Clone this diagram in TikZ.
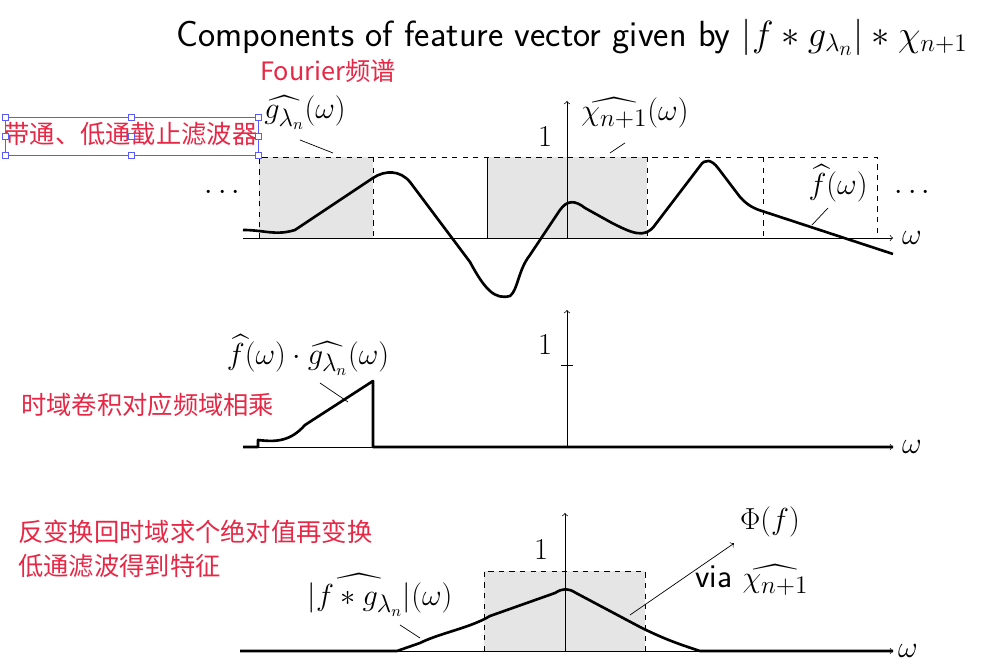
\documentclass[tikz,border=0pt]{standalone}
\usepackage{fontspec}
\usepackage{amsmath}
\newfontfamily\cjk{Noto Sans CJK SC}
\usetikzlibrary{calc}
\definecolor{notered}{RGB}{230,40,70}
\definecolor{boxblue}{RGB}{90,90,255}

\begin{document}
\begin{tikzpicture}[x=0.02cm, y=-0.02cm,
      axis/.style = {
        draw=black,
        thin,
        ->,
      },
      win/.style = {
        draw=black,
        dashed,
      },
      curve/.style = {
        draw=black,
        line width=1.5pt,
        line join=round,
      },
      lead/.style = {
        draw=black,
        thin,
      },
      note/.style = {
        text=notered,
        font=\cjk\Large,
        anchor=west,
      },
      lbl/.style = {
        font=\fontsize{19}{22}\selectfont,
      },
    ]
      \useasboundingbox (0,0) rectangle (992,671);
      \node[font=\sffamily\huge] (title) at (572,37)
        {Components of feature vector given by $|f*g_{\lambda_n}|*\chi_{n+1}$};
      \node[note, anchor=center] (fourier) at (328,71) {Fourier频谱};
      % top panel
      \fill[gray!20] (259,157) rectangle (373,238);
      \fill[gray!20] (487,157) rectangle (647,238);
      \draw[win] (259,238) -- (259,157) -- (877,157) -- (877,238);
      \foreach \x in {373,647,763}
        \draw[win] (\x,157) -- (\x,238);
      \draw (487,157) -- (487,238);
      \draw[axis] (243,238) -- (893,238);
      \draw[axis] (567,238) -- (567,101);
      \draw[curve] (243,230) .. controls (265,230) and (275,236) .. (295,230)
        -- (373,178) .. controls (385,170) and (400,170) .. (410,182)
        -- (470,262) .. controls (485,290) and (495,300) .. (510,296)
        .. controls (518,290) and (518,270) .. (530,255)
        -- (560,210) .. controls (567,200) and (575,200) .. (585,208)
        -- (612,223) .. controls (630,232) and (645,240) .. (655,225)
        -- (700,166) .. controls (705,158) and (712,160) .. (718,168)
        -- (740,197) .. controls (748,206) and (755,209) .. (765,212)
        -- (893,254);
      \node[lbl] (one) at (545,137) {$1$};
      \node[lbl] (glab) at (305,113) {$\widehat{g_{\lambda_n}}(\omega)$};
      \node[lbl] (chilab) at (635,113) {$\widehat{\chi_{n+1}}(\omega)$};
      \node[lbl] (flab) at (838,183) {$\widehat{f}(\omega)$};
      \draw[lead] (300,140) -- (333,153);
      \draw[lead] (625,143) -- (610,153);
      \draw[lead] (828,208) -- (812,225);
      \node[lbl] (ldots) at (225,193) {$\cdots$};
      \node[lbl] (rdots) at (915,193) {$\cdots$};
      \node[lbl] (w1) at (912,238) {$\omega$};
      \node[text=notered, font=\cjk\Large, inner sep=1pt] (filt) at (131,134) {带通、低通截止滤波器};
      \draw[boxblue, thin] (5,117) rectangle (258,155);
      \foreach \x in {5,131,258}
        \foreach \y in {117,136,155}
          \draw[boxblue, fill=white] (\x-3,\y-3) rectangle (\x+3,\y+3);
      % middle panel
      \draw[axis] (567,447) -- (567,310);
      \draw (561,365) -- (573,365);
      \draw[axis] (243,447) -- (893,447);
      \draw[curve] (243,447) -- (258,447) -- (258,440)
        .. controls (275,442) and (290,442) .. (305,425)
        -- (373,381) -- (373,447) -- (893,447);
      \node[lbl] (one2) at (545,345) {$1$};
      \node[lbl] (prodlab) at (308,355) {$\widehat{f}(\omega)\cdot\widehat{g_{\lambda_n}}(\omega)$};
      \draw[lead] (320,383) -- (348,402);
      \node[lbl] (w2) at (912,447) {$\omega$};
      \node[note] (conv) at (15,405) {时域卷积对应频域相乘};
      % bottom panel
      \fill[gray!20] (484,571) rectangle (645,651);
      \draw[win] (484,651) -- (484,571) -- (645,571) -- (645,651);
      \draw[axis] (565,651) -- (565,513);
      \draw[axis] (240,651) -- (893,651);
      \draw[curve] (240,651) -- (397,651) -- (420,643) .. controls (440,633) and (470,628) .. (490,616)
        -- (555,593) .. controls (563,588) and (568,588) .. (576,593)
        -- (640,627) .. controls (660,637) and (675,643) .. (700,651) -- (893,651);
      \node[lbl] (one3) at (541,550) {$1$};
      \node[lbl] (phi) at (770,522) {$\Phi(f)$};
      \node[lbl] (via) at (752,580) {\textsf{via} $\widehat{\chi_{n+1}}$};
      \coordinate (viastart) at (630,615);
      \draw[lead, ->] (viastart) -- (phi.south west);
      \node[lbl] (abslab) at (380,595) {$\widehat{|f*g_{\lambda_n}|}(\omega)$};
      \draw[lead] (400,625) -- (420,638);
      \node[lbl] (w3) at (908,651) {$\omega$};
      \node[note] (inv1) at (12,532) {反变换回时域求个绝对值再变换};
      \node[note] (inv2) at (12,566) {低通滤波得到特征};
\end{tikzpicture}
\end{document}
